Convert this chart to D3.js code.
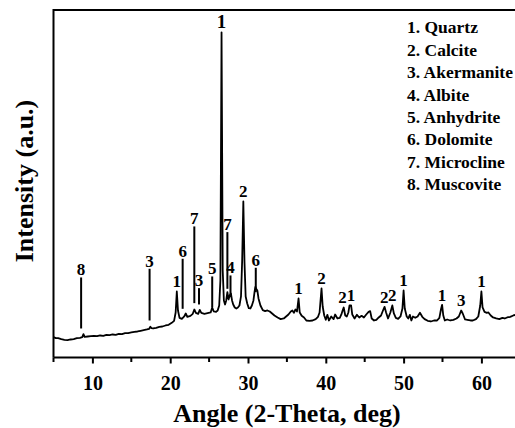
<!DOCTYPE html>
<html>
<head>
<meta charset="utf-8">
<script src="https://cdn.jsdelivr.net/npm/d3@7"></script>
<style>
  html, body { margin: 0; padding: 0; background: #fff; }
  svg { display: block; }
  text { font-family: "Liberation Serif", "Times New Roman", serif; font-weight: bold; fill: #000; }
</style>
</head>
<body>
<svg id="chart" width="515" height="428"></svg>
<script>
// XRD pattern: diffraction angle (2θ, degrees) and intensity (a.u.)
const twoTheta = [
  5.0, 5.3, 5.6, 6.0, 6.4, 6.8, 7.2, 7.6, 8.0, 8.4, 8.7, 8.85, 9.0, 9.4, 9.8,
  10.2, 10.6, 11.0, 11.4, 11.8, 12.2, 12.6, 13.0, 13.4, 13.8, 14.2, 14.6, 15.0,
  15.4, 15.8, 16.2, 16.6, 17.0, 17.3, 17.45, 17.6, 17.8, 18.2, 18.6, 19.0, 19.4,
  19.8, 20.2, 20.5, 20.7, 20.85, 21.0, 21.2, 21.5, 21.8, 22.0, 22.2, 22.6, 22.9,
  23.1, 23.3, 23.6, 23.8, 24.0, 24.4, 24.8, 25.2, 25.4, 25.6, 25.9, 26.1, 26.3,
  26.45, 26.6, 26.75, 26.9, 27.05, 27.2, 27.35, 27.5, 27.65, 27.8, 27.95, 28.1,
  28.3, 28.5, 28.7, 28.9, 29.1, 29.25, 29.4, 29.55, 29.7, 29.9, 30.1, 30.3, 30.5,
  30.7, 30.85, 30.95, 31.05, 31.2, 31.35, 31.6, 31.9, 32.2, 32.5, 32.8, 33.1,
  33.4, 33.8, 34.2, 34.6, 34.9, 35.2, 35.5, 35.7, 35.9, 36.1, 36.3, 36.5, 36.65,
  36.9, 37.2, 37.5, 37.9, 38.3, 38.7, 39.0, 39.2, 39.45, 39.6, 39.8, 40.0, 40.2,
  40.4, 40.7, 41.0, 41.2, 41.5, 41.8, 42.0, 42.15, 42.3, 42.5, 42.7, 42.9, 43.05,
  43.25, 43.4, 43.7, 44.0, 44.3, 44.6, 44.9, 45.2, 45.5, 45.7, 45.9, 46.2, 46.5,
  46.8, 47.1, 47.35, 47.55, 47.75, 48.0, 48.3, 48.55, 48.75, 49.0, 49.3, 49.6,
  49.85, 50.0, 50.15, 50.4, 50.6, 50.8, 51.0, 51.2, 51.5, 51.8, 52.1, 52.4, 52.7,
  53.1, 53.5, 53.9, 54.3, 54.6, 54.8, 54.95, 55.1, 55.3, 55.6, 56.0, 56.4, 56.8,
  57.1, 57.4, 57.6, 57.9, 58.2, 58.6, 58.9, 59.3, 59.6, 59.85, 60.0, 60.15, 60.4,
  60.7, 60.9, 61.2, 61.5, 61.9, 62.3, 62.7, 63.0, 63.3, 63.7, 64.1, 64.5, 65.0
];
const intensity = [
  61, 58, 58, 55, 53, 52, 54, 55, 58, 59, 61, 70, 62, 63, 64,
  65, 64, 66, 65, 68, 67, 69, 68, 71, 70, 73, 73, 75,
  77, 78, 80, 82, 84, 86, 92, 88, 87, 89, 92, 93, 96,
  98, 104, 110, 135, 198, 141, 119, 116, 123, 132, 122, 125, 131,
  144, 134, 131, 143, 134, 131, 133, 135, 150, 138, 137, 141, 156,
  231, 975, 261, 171, 159, 171, 196, 174, 186, 192, 171, 159,
  150, 147, 150, 156, 183, 291, 468, 285, 183, 162, 148, 147, 156,
  171, 198, 212, 206, 201, 177, 156, 142, 139, 141, 138, 132,
  126, 120, 115, 117, 123, 129, 138, 141, 134, 144, 138, 177, 135,
  125, 120, 111, 110, 111, 115, 122, 135, 207, 153, 126, 113, 128,
  111, 123, 115, 129, 117, 119, 129, 140, 150, 126, 123, 135, 156,
  156, 129, 117, 128, 120, 125, 120, 129, 137, 139, 117, 111, 113,
  120, 126, 141, 152, 135, 117, 135, 156, 132, 119, 116, 123,
  147, 201, 147, 123, 117, 128, 111, 123, 119, 123, 134, 122, 115,
  110, 108, 111, 111, 119, 144, 158, 126, 111, 114, 111, 113, 117,
  123, 141, 132, 114, 113, 111, 111, 115, 123, 156, 198, 150, 137,
  134, 135, 126, 120, 117, 115, 119, 117, 120, 122, 126, 129, 131
];

// Phase identifications shown with a drop line: 2θ, phase number, line top / bottom (a.u.)
const markerAngle  = [8.55, 17.35, 21.6, 23.1, 23.7, 25.4, 27.35, 27.75, 31.0];
const markerPhase  = ["8", "3", "6", "7", "3", "5", "7", "4", "6"];
const markerTop    = [240, 266, 296, 393, 208, 243, 376, 246, 269];
const markerBottom = [87, 111, 146, 163, 159, 151, 206, 181, 196];

// Phase identifications written directly above a peak: 2θ, phase number, peak apex (a.u.)
const peakAngle = [20.85, 26.6, 29.4, 36.5, 39.45, 42.15, 43.25, 47.5, 48.55, 50.0, 54.95, 57.4, 60.0];
const peakPhase = ["1", "1", "2", "1", "2", "2", "1", "2", "2", "1", "1", "3", "1"];
const peakApex  = [198, 975, 468, 177, 207, 150, 156, 152, 156, 201, 158, 141, 198];

// Legend entries
const phaseNames = ["1. Quartz", "2. Calcite", "3. Akermanite", "4. Albite",
                    "5. Anhydrite", "6. Dolomite", "7. Microcline", "8. Muscovite"];

// Axis ticks
const majorTicks = [10, 20, 30, 40, 50, 60];
const minorTicks = [5, 15, 25, 35, 45, 55, 65];

const svg = d3.select("#chart");
const W = 515, H = 428;
const plotLeft = 53.5, plotTop = 10, plotBottom = 357.5;

const x = d3.scaleLinear().domain([5, 70]).range([plotLeft, plotLeft + 65 * 7.78]);
const y = d3.scaleLinear().domain([0, 1042]).range([plotBottom, plotTop]);

svg.append("defs").append("clipPath").attr("id", "plot-clip")
  .append("rect").attr("x", plotLeft).attr("y", plotTop)
  .attr("width", W - plotLeft).attr("height", plotBottom - plotTop);

// Diffraction pattern
const pattern = twoTheta.map((t, i) => [t, intensity[i]]);
svg.append("path")
  .datum(pattern)
  .attr("clip-path", "url(#plot-clip)")
  .attr("fill", "none")
  .attr("stroke", "#000")
  .attr("stroke-width", 1.8)
  .attr("stroke-linejoin", "round")
  .attr("d", d3.line().x(d => x(d[0])).y(d => y(d[1])));

// Drop lines and their labels
const markers = svg.append("g");
markerAngle.forEach((a, i) => {
  markers.append("line")
    .attr("x1", x(a)).attr("x2", x(a))
    .attr("y1", y(markerTop[i])).attr("y2", y(markerBottom[i]))
    .attr("stroke", "#000").attr("stroke-width", 2);
  markers.append("text")
    .attr("x", x(a)).attr("y", y(markerTop[i]) - 2)
    .attr("text-anchor", "middle")
    .style("font-size", "17px")
    .text(markerPhase[i]);
});

// Labels sitting on peak apexes
peakAngle.forEach((a, i) => {
  svg.append("text")
    .attr("x", x(a)).attr("y", y(peakApex[i]) - 4)
    .attr("text-anchor", "middle")
    .style("font-size", i === 1 ? "19px" : "17px")
    .text(peakPhase[i]);
});

// Frame: top edge and left edge
svg.append("line").attr("x1", plotLeft).attr("x2", W).attr("y1", plotTop).attr("y2", plotTop)
  .attr("stroke", "#000").attr("stroke-width", 2);
svg.append("line").attr("x1", plotLeft).attr("x2", plotLeft).attr("y1", plotTop - 1).attr("y2", plotBottom)
  .attr("stroke", "#000").attr("stroke-width", 2);

// Bottom axis with major and minor ticks
const xAxis = svg.append("g").attr("transform", `translate(0,${plotBottom})`)
  .call(d3.axisBottom(x).tickValues(majorTicks).tickSize(6).tickSizeOuter(0).tickFormat(d3.format("d")));
xAxis.select(".domain").attr("stroke-width", 2).attr("d", `M${plotLeft},0H${W}`);
xAxis.selectAll(".tick line").attr("stroke-width", 2);
xAxis.selectAll(".tick text")
  .attr("y", 32).attr("dy", null)
  .style("font-family", "'Liberation Serif', serif")
  .style("font-weight", "bold")
  .style("font-size", "20px");

svg.append("g").attr("transform", `translate(0,${plotBottom})`)
  .selectAll("line").data(minorTicks).join("line")
  .attr("x1", d => x(d)).attr("x2", d => x(d))
  .attr("y1", 0).attr("y2", 4.5)
  .attr("stroke", "#000").attr("stroke-width", 2);

// Axis titles
svg.append("text")
  .attr("x", 287).attr("y", 422)
  .attr("text-anchor", "middle")
  .style("font-size", "26px")
  .text("Angle (2-Theta, deg)");

svg.append("text")
  .attr("transform", "translate(33,181) rotate(-90)")
  .attr("text-anchor", "middle")
  .style("font-size", "26px")
  .text("Intensity (a.u.)");

// Legend
svg.append("g").selectAll("text").data(phaseNames).join("text")
  .attr("x", 407)
  .attr("y", (d, i) => 33.3 + i * 22.4)
  .style("font-size", "17.5px")
  .text(d => d);
</script>
</body>
</html>
